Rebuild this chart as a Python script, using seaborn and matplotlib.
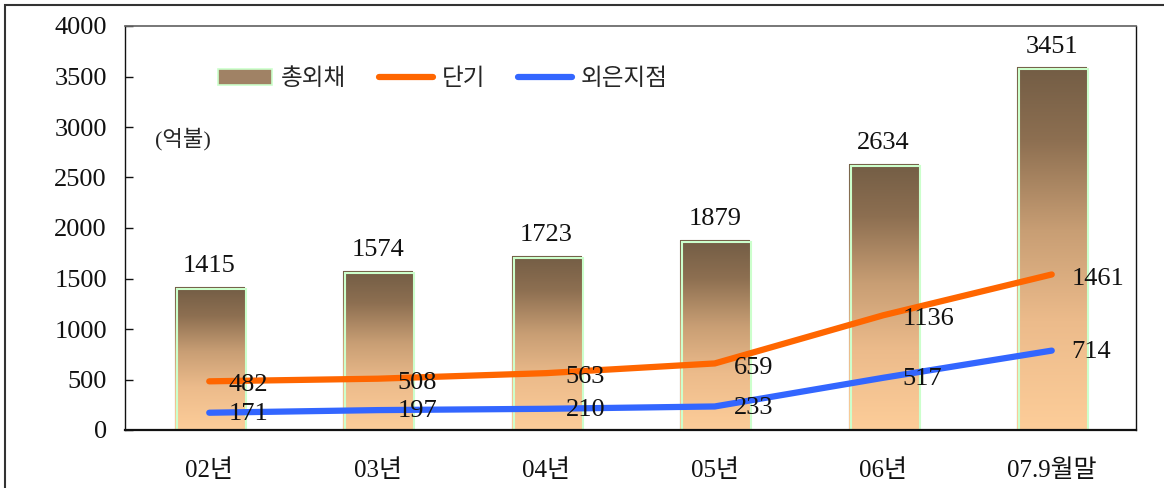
"""Korean external debt chart: total debt bars with short-term / foreign branch lines."""

import matplotlib.pyplot as plt
import matplotlib.transforms as mtransforms
import numpy as np
import seaborn as sns
from matplotlib.colors import LinearSegmentedColormap
from matplotlib.lines import Line2D
from matplotlib.patches import Patch, Rectangle

categories = ["02년", "03년", "04년", "05년", "06년", "07.9월말"]
total = [1415, 1574, 1723, 1879, 2634, 3590]
short_term = [482, 508, 563, 659, 1136, 1540]
foreign_branch = [171, 197, 210, 233, 517, 786]
total_text = ["1415", "1574", "1723", "1879", "2634", "3451"]
short_text = ["482", "508", "563", "659", "1136", "1461"]
branch_text = ["171", "197", "210", "233", "517", "714"]
series_names = ["총외채", "단기", "외은지점"]
y_ticks = [0, 500, 1000, 1500, 2000, 2500, 3000, 3500, 4000]

sns.set_theme(style="white")
plt.rcParams["font.family"] = ["Liberation Serif", "Noto Sans CJK KR", "DejaVu Sans"]

ORANGE = "#ff6600"
BLUE = "#3366ff"
EDGE_GREEN = "#ccffcc"
bar_cmap = LinearSegmentedColormap.from_list(
    "bar", [(0.0, "#fdcd99"), (0.3, "#ecbb8b"), (0.55, "#c89e74"), (0.8, "#8d6f51"), (1.0, "#735d45")]
)

fig = plt.figure(figsize=(11.64, 4.88), dpi=100)
ax = fig.add_axes([125 / 1164, 58 / 488, 1011 / 1164, 404 / 488])

x_pos = np.arange(len(categories))
sns.barplot(x=x_pos, y=total, width=0.41, color="#a88a6a", ax=ax, native_scale=True)

# gradient fill for each bar, plus the light green offset outline
gradient = np.linspace(0, 1, 256).reshape(-1, 1)
shift = mtransforms.offset_copy(ax.transData, fig=fig, x=2, y=-2, units="dots")
for patch in ax.patches:
    x0, y0 = patch.get_x(), patch.get_y()
    w, h = patch.get_width(), patch.get_height()
    img = ax.imshow(gradient, cmap=bar_cmap, origin="lower", aspect="auto",
                    extent=(x0, x0 + w, y0, y0 + h), zorder=1)
    img.set_clip_path(patch)
    patch.set_facecolor("none")
    patch.set_edgecolor("#7d6a55")
    patch.set_linewidth(0.8)
    ax.add_patch(Rectangle((x0, y0), w, h, transform=shift, fill=False,
                           edgecolor=EDGE_GREEN, linewidth=1.5, zorder=2))

sns.lineplot(x=x_pos, y=short_term, color=ORANGE, linewidth=4.5, ax=ax, zorder=3,
             solid_capstyle="round")
sns.lineplot(x=x_pos, y=foreign_branch, color=BLUE, linewidth=4.5, ax=ax, zorder=3,
             solid_capstyle="round")

# data labels
for xi, yi, txt in zip(x_pos, total, total_text):
    ax.annotate(txt, (xi, yi), xytext=(0, 7), textcoords="offset points",
                ha="center", va="bottom", fontsize=19, color="#111111", zorder=4)
for xi, yi, txt in zip(x_pos, short_term, short_text):
    ax.annotate(txt, (xi, yi), xytext=(14, -3), textcoords="offset points",
                ha="left", va="center", fontsize=19, color="#111111", zorder=4)
for xi, yi, txt in zip(x_pos, foreign_branch, branch_text):
    ax.annotate(txt, (xi, yi), xytext=(14, -1), textcoords="offset points",
                ha="left", va="center", fontsize=19, color="#111111", zorder=4)

ax.set_xlim(-0.5, len(categories) - 0.5)
ax.set_ylim(0, 4000)
ax.set_yticks(y_ticks)
ax.set_yticklabels([str(v) for v in y_ticks], fontsize=19)
ax.set_xticks(x_pos)
ax.set_xticklabels(categories, fontsize=18)
ax.set_xticks(x_pos[:-1] + 0.5, minor=True)
ax.tick_params(axis="x", which="major", length=0, pad=21, colors="#111111")
ax.tick_params(axis="x", which="minor", direction="in", length=6, width=1, color="#333333")
ax.tick_params(axis="y", direction="in", length=6, width=1, pad=13, colors="#111111",
               left=True)
ax.set_xlabel("")
ax.set_ylabel("")
ax.grid(False)

for side in ["left", "right", "bottom"]:
    ax.spines[side].set_color("#111111")
ax.spines["top"].set_color("#666666")
ax.spines["bottom"].set_linewidth(1.6)
ax.spines["left"].set_linewidth(1.0)
ax.spines["right"].set_linewidth(1.0)

ax.text(0.03, 0.72, "(억불)", transform=ax.transAxes, fontsize=16, va="center", ha="left")

handles = [
    Patch(facecolor="#a08265", edgecolor=EDGE_GREEN, linewidth=1.2),
    Line2D([], [], color=ORANGE, linewidth=4.5, solid_capstyle="round"),
    Line2D([], [], color=BLUE, linewidth=4.5, solid_capstyle="round"),
]
ax.legend(handles, series_names, ncol=3, frameon=False, fontsize=17,
          loc="center left", bbox_to_anchor=(0.071, 0.868),
          handlelength=2.3, handleheight=0.7, handletextpad=0.35, columnspacing=1.4)

# outer frame around the whole picture
fig.patches.append(Rectangle((5 / 1164, -0.05), 1.1, 1 - 5 / 488 + 0.05,
                             transform=fig.transFigure, fill=False,
                             edgecolor="#333333", linewidth=1.5))

fig.savefig("out.png", dpi=100)
